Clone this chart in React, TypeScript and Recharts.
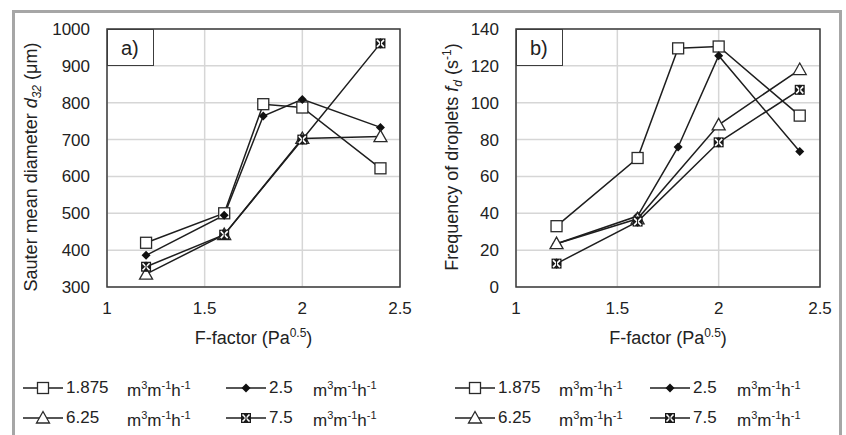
import React from "react";
import {
  CartesianGrid,
  Label,
  Line,
  LineChart,
  ReferenceArea,
  XAxis,
  YAxis,
} from "recharts";

// F-factor values (Pa^0.5) at which the runs were made
const fFactor = [1.2, 1.6, 1.8, 2.0, 2.4];

// Sauter mean diameter d32 (µm), one array per liquid load
const d32Load1875 = [420, 500, 796, 787, 622];
const d32Load25 = [386, 495, 764, 809, 733];
const d32Load625 = [335, 442, null, 703, 708];
const d32Load75 = [355, 442, null, 700, 961];

// Frequency of droplets fd (1/s)
const fdLoad1875 = [33, 70, 129.5, 130.5, 93];
const fdLoad25 = [23.5, 38.5, 76, 125.5, 73.5];
const fdLoad625 = [23.5, 37, null, 88, 118];
const fdLoad75 = [12.7, 35.5, null, 78.5, 107];

const xTicks = [1, 1.5, 2, 2.5];
const d32Ticks = [300, 400, 500, 600, 700, 800, 900, 1000];
const fdTicks = [0, 20, 40, 60, 80, 100, 120, 140];

const loadLabels = ["1.875", "2.5", "6.25", "7.5"];
const markerKinds = ["square", "diamond", "triangle", "xsquare"] as const;
type MarkerKind = (typeof markerKinds)[number];

const FONT = "'Liberation Sans', Arial, sans-serif";
const INK = "#222";
const LINE = "#1e1e1e";

const buildRows = (a: (number | null)[], b: (number | null)[], c: (number | null)[], d: (number | null)[]) =>
  fFactor.map((f, i) => ({ f, s0: a[i], s1: b[i], s2: c[i], s3: d[i] }));

const d32Rows = buildRows(d32Load1875, d32Load25, d32Load625, d32Load75);
const fdRows = buildRows(fdLoad1875, fdLoad25, fdLoad625, fdLoad75);

function Marker({ kind, cx, cy }: { kind: MarkerKind; cx: number; cy: number }) {
  if (kind === "square") {
    return <rect x={cx - 5.5} y={cy - 5.5} width={11} height={11} fill="#fff" stroke="#2a2a2a" strokeWidth={1.3} />;
  }
  if (kind === "diamond") {
    return <path d={`M${cx},${cy - 4.5}L${cx + 4.5},${cy}L${cx},${cy + 4.5}L${cx - 4.5},${cy}Z`} fill="#111" />;
  }
  if (kind === "triangle") {
    return (
      <path
        d={`M${cx},${cy - 6.5}L${cx + 6.5},${cy + 5}L${cx - 6.5},${cy + 5}Z`}
        fill="#fff"
        stroke="#2a2a2a"
        strokeWidth={1.3}
      />
    );
  }
  return (
    <g>
      <rect x={cx - 5} y={cy - 5} width={10} height={10} fill="#1a1a1a" />
      <path d={`M${cx - 3.5},${cy - 3.5}L${cx + 3.5},${cy + 3.5}M${cx + 3.5},${cy - 3.5}L${cx - 3.5},${cy + 3.5}`} stroke="#fff" strokeWidth={1.6} />
      <path d={`M${cx},${cy - 5}L${cx},${cy + 5}`} stroke="#1a1a1a" strokeWidth={1} />
    </g>
  );
}

const dotFor = (kind: MarkerKind) => (props: any) => {
  const { cx, cy, value, index } = props;
  if (value == null || cx == null || cy == null) return <g key={`${kind}-${index}`} />;
  return (
    <g key={`${kind}-${index}`}>
      <Marker kind={kind} cx={cx} cy={cy} />
    </g>
  );
};

function XTitle(props: any) {
  const vb = props.viewBox;
  return (
    <text x={vb.x + vb.width / 2} y={vb.y + 57} textAnchor="middle" fontSize={18} fill={INK} fontFamily={FONT}>
      F-factor (Pa
      <tspan fontSize={12} dy={-7}>0.5</tspan>
      <tspan dy={7}>)</tspan>
    </text>
  );
}

function D32Title() {
  return (
    <text transform="translate(37,167) rotate(-90)" textAnchor="middle" fontSize={18} fill={INK} fontFamily={FONT}>
      Sauter mean diameter <tspan fontStyle="italic">d</tspan>
      <tspan fontStyle="italic" fontSize={12} dy={4}>32</tspan>
      <tspan dy={-4}> (μm)</tspan>
    </text>
  );
}

function FdTitle() {
  return (
    <text transform="translate(35,157) rotate(-90)" textAnchor="middle" fontSize={18} fill={INK} fontFamily={FONT}>
      Frequency of droplets <tspan fontStyle="italic">f</tspan>
      <tspan fontStyle="italic" fontSize={12} dy={4}>d</tspan>
      <tspan dy={-4}>{"  (s"}</tspan>
      <tspan fontSize={12} dy={-7}>-1</tspan>
      <tspan dy={7}>)</tspan>
    </text>
  );
}

interface PanelProps {
  rows: typeof d32Rows;
  yDomain: [number, number];
  yTicks: number[];
  yWidth: number;
  rightMargin: number;
  Title: () => React.ReactElement;
}

function Panel({ rows, yDomain, yTicks, yWidth, rightMargin, Title }: PanelProps) {
  return (
    <LineChart width={423} height={360} data={rows} margin={{ top: 29, right: rightMargin, left: 0, bottom: 0 }}>
      <CartesianGrid stroke="#d6d6d6" strokeWidth={1.5} />
      <XAxis
        type="number"
        dataKey="f"
        domain={[1, 2.5]}
        ticks={xTicks}
        axisLine={false}
        tickLine={false}
        tickSize={0}
        tickMargin={15}
        height={73}
        tick={{ fontSize: 17, fill: INK, fontFamily: FONT }}
      >
        <Label content={<XTitle />} />
      </XAxis>
      <YAxis
        type="number"
        domain={yDomain}
        ticks={yTicks}
        axisLine={false}
        tickLine={false}
        tickSize={0}
        tickMargin={17}
        width={yWidth}
        tick={{ fontSize: 17, fill: INK, fontFamily: FONT }}
      >
        <Label content={<Title />} />
      </YAxis>
      <ReferenceArea
        x1={1}
        x2={2.5}
        y1={yDomain[0]}
        y2={yDomain[1]}
        fill="none"
        stroke="#3c3c3c"
        strokeWidth={1.5}
        fillOpacity={0}
      />
      {markerKinds.map((kind, i) => (
        <Line
          key={kind}
          dataKey={`s${i}`}
          stroke={LINE}
          strokeWidth={1.5}
          connectNulls
          dot={dotFor(kind)}
          activeDot={false}
          isAnimationActive={false}
        />
      ))}
    </LineChart>
  );
}

function Tag({ text, left }: { text: string; left: number }) {
  return (
    <div
      style={{
        position: "absolute",
        left,
        top: 29,
        width: 47,
        height: 37,
        background: "#fff",
        border: "1.5px solid #3c3c3c",
        boxSizing: "border-box",
        fontFamily: FONT,
        fontSize: 20,
        color: INK,
        paddingLeft: 13,
        lineHeight: "36px",
      }}
    >
      {text}
    </div>
  );
}

function Units() {
  return (
    <span>
      m<sup style={{ fontSize: 11 }}>3</sup>m<sup style={{ fontSize: 11 }}>-1</sup>h<sup style={{ fontSize: 11 }}>-1</sup>
    </span>
  );
}

function LegendItem({ i, x, y }: { i: number; x: number; y: number }) {
  return (
    <div style={{ position: "absolute", left: x, top: y - 12, height: 24, display: "flex", alignItems: "center", fontFamily: FONT, fontSize: 17, color: INK, lineHeight: "24px" }}>
      <svg width={40} height={24} style={{ display: "block" }}>
        <line x1={0} y1={12} x2={40} y2={12} stroke={LINE} strokeWidth={1.5} />
        <Marker kind={markerKinds[i]} cx={20} cy={12} />
      </svg>
      <span style={{ marginLeft: 3, width: i % 2 === 0 ? 61 : 44, whiteSpace: "nowrap" }}>{loadLabels[i]}</span>
      <Units />
    </div>
  );
}

function PanelLegend({ left, secondCol }: { left: number; secondCol: number }) {
  return (
    <>
      <LegendItem i={0} x={left} y={388} />
      <LegendItem i={1} x={secondCol} y={388} />
      <LegendItem i={2} x={left} y={418} />
      <LegendItem i={3} x={secondCol} y={418} />
    </>
  );
}

export default function App() {
  return (
    <div style={{ position: "absolute", left: 0, top: 0, width: 846, height: 435, background: "#fff", overflow: "hidden" }}>
      <div
        style={{
          position: "absolute",
          left: 12,
          top: 10,
          width: 830,
          height: 440,
          borderTop: "3px solid #a6a6a6",
          borderLeft: "3px solid #a6a6a6",
          borderRight: "3px solid #a6a6a6",
          boxSizing: "border-box",
        }}
      />
      <div style={{ position: "absolute", left: 0, top: 0 }}>
        <Panel rows={d32Rows} yDomain={[300, 1000]} yTicks={d32Ticks} yWidth={107} rightMargin={23} Title={D32Title} />
      </div>
      <div style={{ position: "absolute", left: 423, top: 0 }}>
        <Panel rows={fdRows} yDomain={[0, 140]} yTicks={fdTicks} yWidth={93} rightMargin={26} Title={FdTitle} />
      </div>
      <Tag text="a)" left={107} />
      <Tag text="b)" left={516} />
      <PanelLegend left={23} secondCol={226} />
      <PanelLegend left={455} secondCol={650} />
    </div>
  );
}
